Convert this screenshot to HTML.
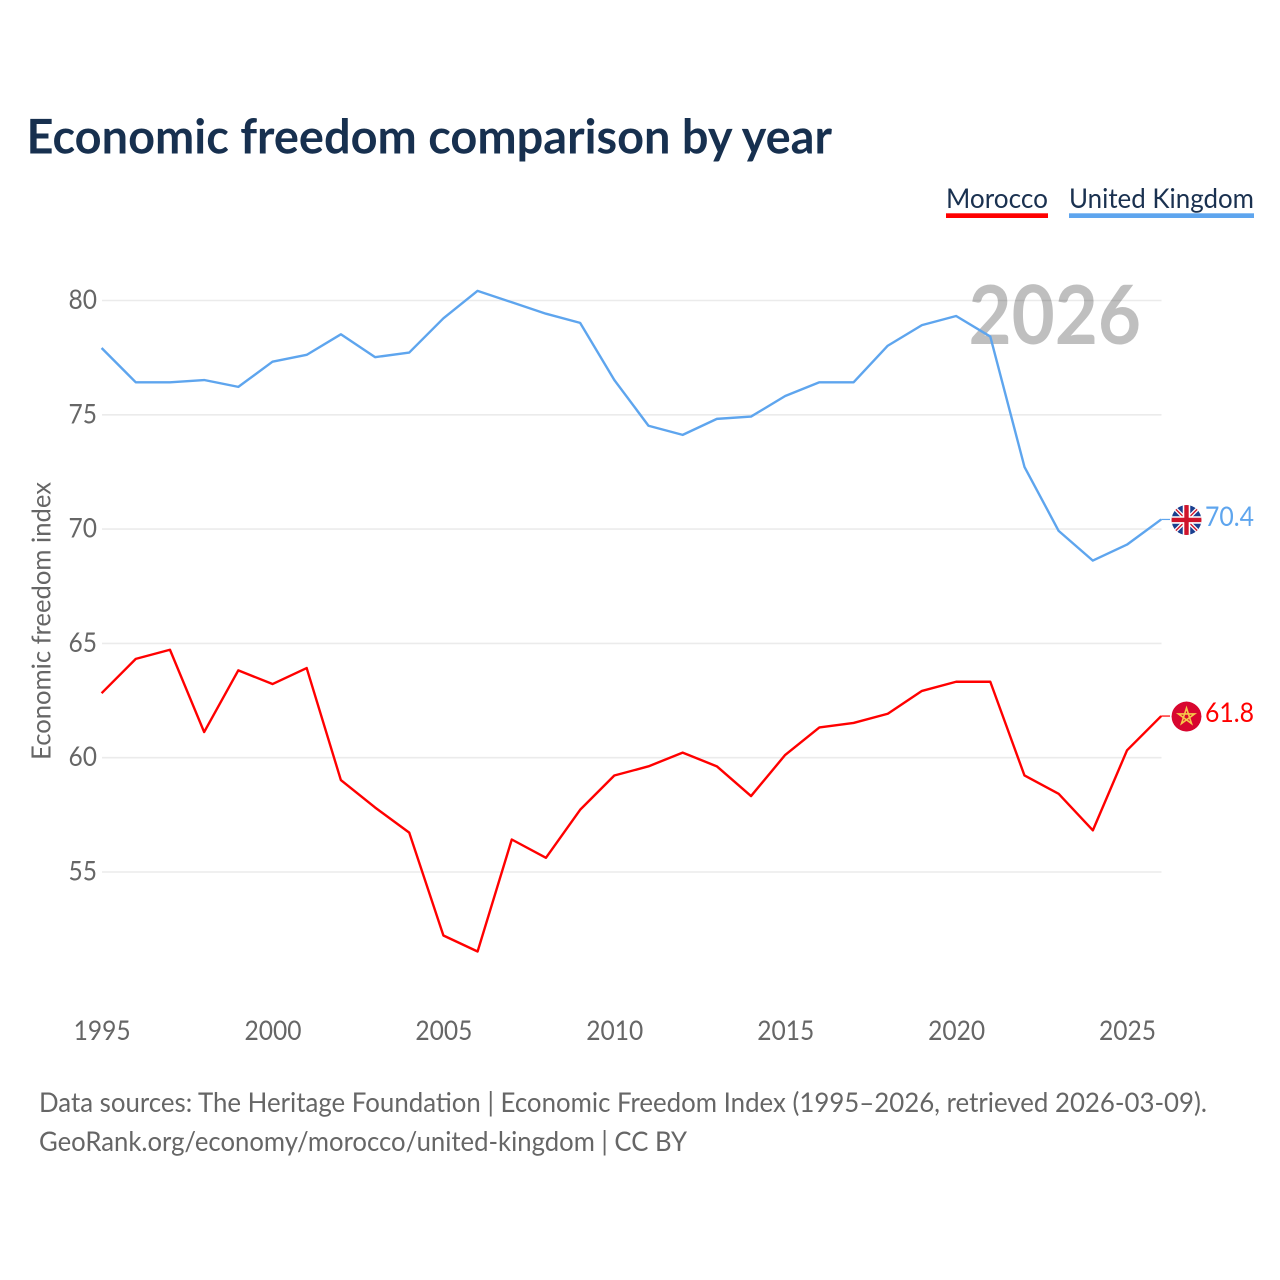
<!DOCTYPE html>
<html lang="en">
<head>
<meta charset="utf-8">
<title>Economic freedom comparison by year</title>
<style>
html,body{margin:0;padding:0;background:#fff;width:1280px;height:1280px;overflow:hidden}
svg{display:block;font-family:Lato,Carlito,"Liberation Sans",sans-serif}
</style>
</head>
<body>
<svg id="chart" width="1280" height="1280" viewBox="0 0 1280 1280" xmlns="http://www.w3.org/2000/svg">
  <defs>
    <clipPath id="flag-clip-uk"><circle cx="0" cy="0" r="15"/></clipPath>
    <clipPath id="flag-clip-ma"><circle cx="0" cy="0" r="15"/></clipPath>
  </defs>
  <text x="26.5" y="153.5" font-size="48" font-weight="700" fill="#17304f" textLength="805.5" lengthAdjust="spacingAndGlyphs">Economic freedom comparison by year</text>
  <text x="946" y="208" font-size="27" fill="#1a3150" textLength="102" lengthAdjust="spacingAndGlyphs">Morocco</text>
  <rect x="946" y="213.3" width="102" height="4.7" fill="#ff0000"/>
  <text x="1069" y="208" font-size="27" fill="#1a3150" textLength="185" lengthAdjust="spacingAndGlyphs">United Kingdom</text>
  <rect x="1069" y="213.3" width="185" height="4.7" fill="#5ea5ee"/>
  <g id="grid"></g>
  <text x="968.5" y="344" font-size="81" font-weight="700" fill="#000" fill-opacity="0.25" textLength="172.5" lengthAdjust="spacingAndGlyphs">2026</text>
  <g id="yticks"></g>
  <g id="xticks"></g>
  <text transform="translate(50.5,621) rotate(-90)" text-anchor="middle" font-size="26" fill="#666666" textLength="278" lengthAdjust="spacingAndGlyphs">Economic freedom index</text>
  <g id="series"></g>
  <g id="flag-uk" clip-path="url(#flag-clip-uk)">
    <circle cx="0" cy="0" r="15" fill="#1b3f8f"/>
    <path d="M-15-15L15 15M15-15L-15 15" stroke="#fff" stroke-width="4"/>
    <path d="M-15-15L15 15M15-15L-15 15" stroke="#cf142b" stroke-width="1.4"/>
    <path d="M0-15V15M-15 0H15" stroke="#fff" stroke-width="7.5"/>
    <path d="M0-15V15M-15 0H15" stroke="#cf142b" stroke-width="4.4"/>
  </g>
  <g id="flag-ma" clip-path="url(#flag-clip-ma)">
    <circle cx="0" cy="0" r="15" fill="#d8062f"/>
    <polygon points="0,-8.5 5,7 -8.1,-2.6 8.1,-2.6 -5,7" fill="none" stroke="#f5c84a" stroke-width="1.6"/>
  </g>
  <text id="value-uk" x="1205" font-size="27" fill="#5ea5ee" textLength="49" lengthAdjust="spacingAndGlyphs"></text>
  <text id="value-ma" x="1205" font-size="27" fill="#ff0000" textLength="49" lengthAdjust="spacingAndGlyphs"></text>
  <text x="39" y="1112" font-size="27" fill="#666666" textLength="1168" lengthAdjust="spacingAndGlyphs">Data sources: The Heritage Foundation | Economic Freedom Index (1995–2026, retrieved 2026-03-09).</text>
  <text x="39" y="1151" font-size="27" fill="#666666" textLength="648" lengthAdjust="spacingAndGlyphs">GeoRank.org/economy/morocco/united-kingdom | CC BY</text>
</svg>
<script>
const years = [1995,1996,1997,1998,1999,2000,2001,2002,2003,2004,2005,2006,2007,2008,2009,2010,2011,2012,2013,2014,2015,2016,2017,2018,2019,2020,2021,2022,2023,2024,2025,2026];
const unitedKingdom = [77.9,76.4,76.4,76.5,76.2,77.3,77.6,78.5,77.5,77.7,79.2,80.4,79.9,79.4,79.0,76.5,74.5,74.1,74.8,74.9,75.8,76.4,76.4,78.0,78.9,79.3,78.4,72.7,69.9,68.6,69.3,70.4];
const morocco = [62.8,64.3,64.7,61.1,63.8,63.2,63.9,59.0,57.8,56.7,52.2,51.5,56.4,55.6,57.7,59.2,59.6,60.2,59.6,58.3,60.1,61.3,61.5,61.9,62.9,63.3,63.3,59.2,58.4,56.8,60.3,61.8];
const yTickLabels = [55,60,65,70,75,80];
const xTickLabels = [1995,2000,2005,2010,2015,2020,2025];

const SVG_NS = 'http://www.w3.org/2000/svg';
const xScale = function (year) { return 101.6 + (year - 1995) * (1161.2 - 101.6) / 31; };
const yScale = function (value) { return 300 + (80 - value) * (871.5 - 300) / 25; };

function make(tag, parent, props, content) {
  const el = document.createElementNS(SVG_NS, tag);
  Object.keys(props).forEach(function (k) { el.setAttribute(k, props[k]); });
  if (content !== undefined) el.textContent = content;
  parent.appendChild(el);
  return el;
}

const gridGroup = document.getElementById('grid');
const yTickGroup = document.getElementById('yticks');
const xTickGroup = document.getElementById('xticks');
const seriesGroup = document.getElementById('series');

yTickLabels.forEach(function (tick) {
  const line = make('line', gridGroup, {x1: 102, x2: 1161.5, y1: yScale(tick) + 0.5, y2: yScale(tick) + 0.5, stroke: '#ebebeb', 'stroke-width': 1.6});
  
  
  const label = make('text', yTickGroup, {x: 97, y: yScale(tick) + 9, 'text-anchor': 'end', 'font-size': 27, fill: '#666666', textLength: 28.5, lengthAdjust: 'spacingAndGlyphs'}, String(tick));
  
  
});

xTickLabels.forEach(function (tick) {
  const label = make('text', xTickGroup, {x: xScale(tick) + 0.5, y: 1040, 'text-anchor': 'middle', 'font-size': 27, fill: '#666666', textLength: 57, lengthAdjust: 'spacingAndGlyphs'}, String(tick));
  
  
});

function linePoints(values) {
  return values.map(function (v, i) { return xScale(years[i]).toFixed(2) + ',' + yScale(v).toFixed(2); }).join(' ');
}

const ukLine = make('polyline', seriesGroup, {points: linePoints(unitedKingdom), fill: 'none', stroke: '#5ea5ee', 'stroke-width': 2.4, 'stroke-linejoin': 'round'});



const maLine = make('polyline', seriesGroup, {points: linePoints(morocco), fill: 'none', stroke: '#ff0000', 'stroke-width': 2.4, 'stroke-linejoin': 'round'});



const lastIndex = years.length - 1;
const lastX = xScale(years[lastIndex]);
const ukEndY = yScale(unitedKingdom[lastIndex]);
const maEndY = yScale(morocco[lastIndex]);

const ukConnector = make('line', seriesGroup, {x1: lastX, x2: 1170, y1: ukEndY, y2: ukEndY, stroke: '#5ea5ee', 'stroke-width': 1.2});



const maConnector = make('line', seriesGroup, {x1: lastX, x2: 1170, y1: maEndY, y2: maEndY, stroke: '#ff0000', 'stroke-width': 1.2});



document.getElementById('flag-uk').setAttribute('transform', 'translate(1186.5,' + (ukEndY + 0.5) + ')');
document.getElementById('flag-ma').setAttribute('transform', 'translate(1186.5,' + (maEndY + 0.5) + ')');

const ukValue = document.getElementById('value-uk');
ukValue.setAttribute('y', ukEndY + 6.5);
ukValue.textContent = unitedKingdom[lastIndex].toFixed(1);

const maValue = document.getElementById('value-ma');
maValue.setAttribute('y', maEndY + 6);
maValue.textContent = morocco[lastIndex].toFixed(1);
</script>
</body>
</html>
